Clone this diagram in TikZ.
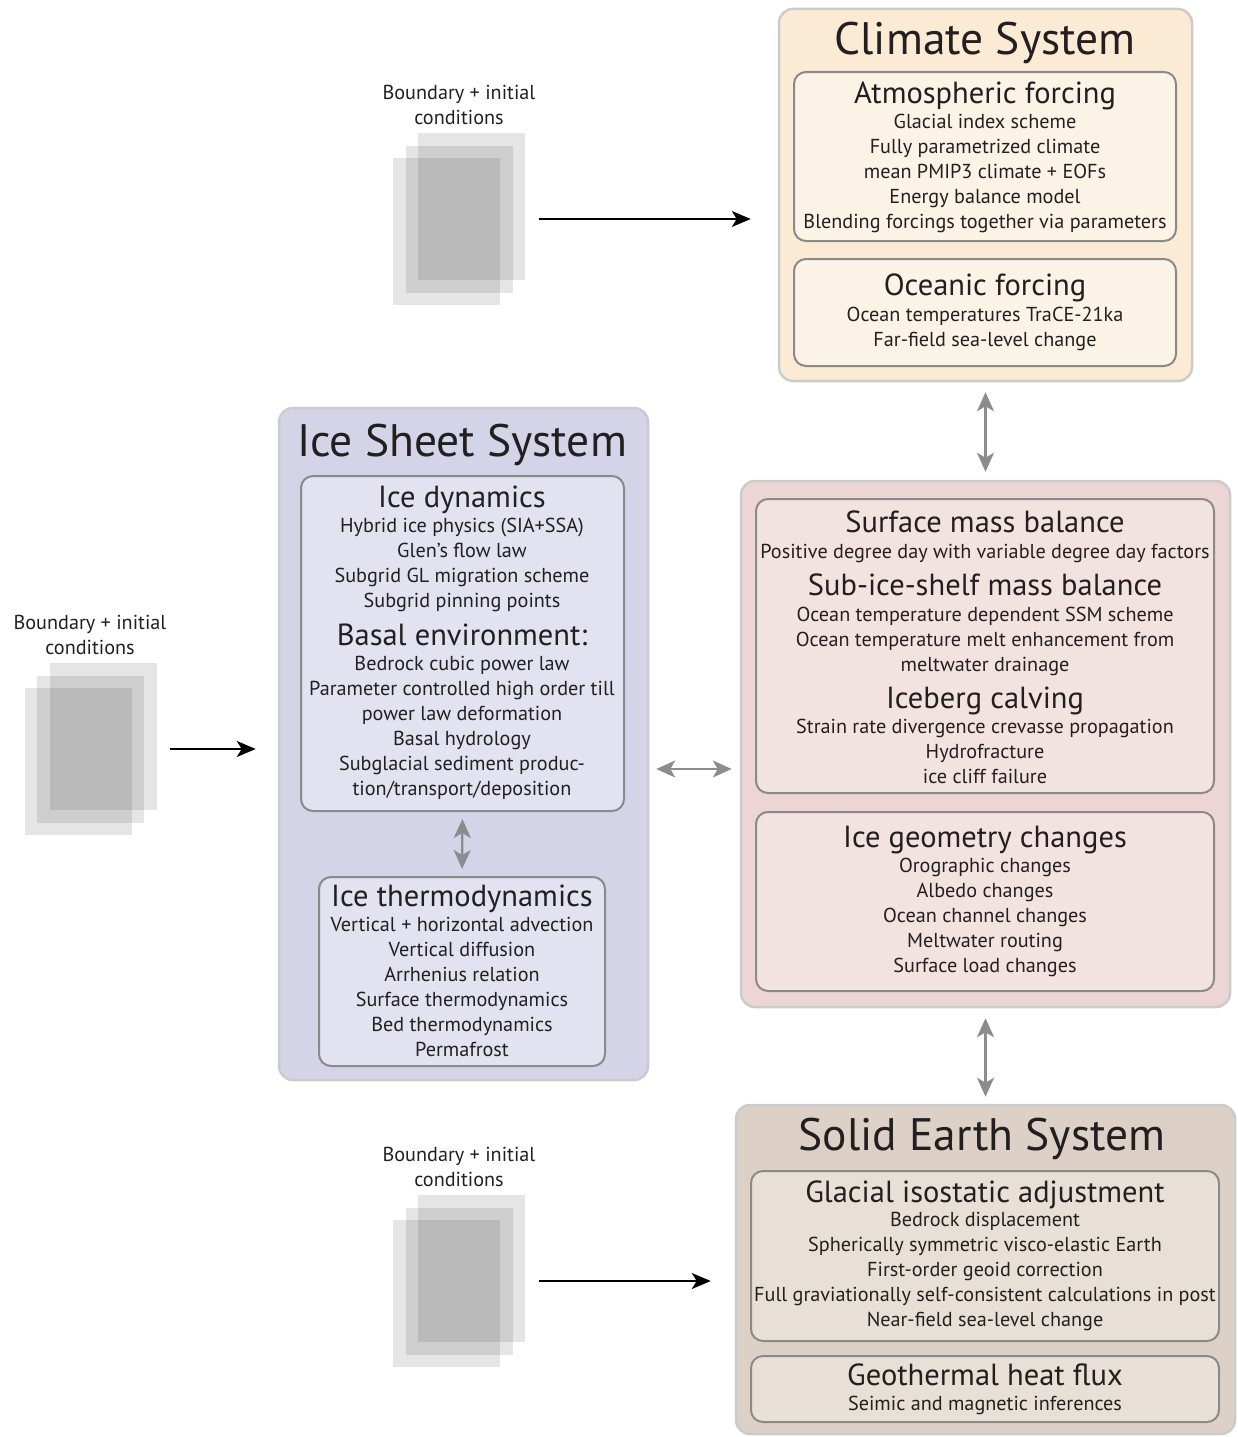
\documentclass[tikz,border=0pt]{standalone}
\usepackage{fontspec}
\setmainfont{PT Sans}
\usetikzlibrary{arrows.meta}

\definecolor{climfill}{HTML}{FBEBD5}
\definecolor{climsub}{HTML}{FCF3E7}
\definecolor{massfill}{HTML}{EDD5D5}
\definecolor{masssub}{HTML}{F2E3E1}
\definecolor{icefill}{HTML}{D3D4E8}
\definecolor{icesub}{HTML}{E2E2F0}
\definecolor{earthfill}{HTML}{DDD1C7}
\definecolor{earthsub}{HTML}{E8DFD7}
\definecolor{outerline}{HTML}{CBCBCB}
\definecolor{innerline}{HTML}{8A8A8A}
\definecolor{linkgray}{HTML}{8C8C8C}
\definecolor{inktext}{HTML}{231F20}

\begin{document}
\begin{tikzpicture}[x=1pt, y=-1pt,
    sysbox/.style={draw=outerline, line width=2.5pt, rounded corners=14pt, inner sep=0pt},
    subbox/.style={draw=innerline, line width=2pt, rounded corners=12pt, inner sep=0pt},
    sheet/.style={fill=black, fill opacity=0.1, minimum width=107pt, minimum height=147pt, inner sep=0pt},
    systitle/.style={font=\fontsize{45.5}{48}\selectfont, anchor=base, text=inktext},
    subhead/.style={font=\fontsize{30.5}{34}\selectfont, anchor=base, text=inktext},
    itemtext/.style={font=\fontsize{20.2}{25}\selectfont, align=center, anchor=north, inner sep=0pt, text=inktext},
    feed/.style={-{Stealth[length=19pt, width=16pt, inset=5pt]}, line width=1.8pt, black},
    link/.style={{Stealth[length=19pt, width=17pt, inset=5pt]}-{Stealth[length=19pt, width=17pt, inset=5pt]}, line width=2.2pt, linkgray}]
    \useasboundingbox (0,0) rectangle (1238,1437);

    % Climate system
    \node (climate) [sysbox, fill=climfill, minimum width=413pt, minimum height=372pt] at (985.5,195) {};
    \node (atm) [subbox, fill=climsub, minimum width=382pt, minimum height=169pt] at (985,156.5) {};
    \node (ocean) [subbox, fill=climsub, minimum width=382pt, minimum height=107pt] at (985,312.5) {};
    \node (climtitle) [systitle] at (985,55) {Climate System};
    \node (atmhead) [subhead] at (985,103) {Atmospheric forcing};
    \node (atmtext) [itemtext] at (985,114) {Glacial index scheme\\ Fully parametrized climate\\ mean PMIP3 climate + EOFs\\ Energy balance model\\ Blending forcings together via parameters};
    \node (oceanhead) [subhead] at (985,295) {Oceanic forcing};
    \node (oceantext) [itemtext] at (985,307) {Ocean temperatures TraCE-21ka\\ Far-field sea-level change};

    % Mass balance and geometry
    \node (mass) [sysbox, fill=massfill, minimum width=489pt, minimum height=526pt] at (985.5,744) {};
    \node (balance) [subbox, fill=masssub, minimum width=458pt, minimum height=294pt] at (985,646) {};
    \node (geometry) [subbox, fill=masssub, minimum width=458pt, minimum height=179pt] at (985,901.5) {};
    \node (smbhead) [subhead] at (985,532) {Surface mass balance};
    \node (smbtext) [itemtext] at (985,544) {Positive degree day with variable degree day factors};
    \node (shelfhead) [subhead] at (985,595) {Sub-ice-shelf mass balance};
    \node (shelftext) [itemtext] at (985,607) {Ocean temperature dependent SSM scheme\\ Ocean temperature melt enhancement from\\ meltwater drainage};
    \node (calvhead) [subhead] at (985,708) {Iceberg calving};
    \node (calvtext) [itemtext] at (985,719) {Strain rate divergence crevasse propagation\\ Hydrofracture\\ ice cliff failure};
    \node (geomhead) [subhead] at (985,847) {Ice geometry changes};
    \node (geomtext) [itemtext] at (985,858) {Orographic changes\\ Albedo changes\\ Ocean channel changes\\ Meltwater routing\\ Surface load changes};

    % Ice sheet system
    \node (icesheet) [sysbox, fill=icefill, minimum width=369pt, minimum height=672pt] at (463.5,744) {};
    \node (dynamics) [subbox, fill=icesub, minimum width=323pt, minimum height=335pt] at (462.5,643.5) {};
    \node (thermo) [subbox, fill=icesub, minimum width=286pt, minimum height=189pt] at (462,971.5) {};
    \node (icetitle) [systitle] at (462,456) {Ice Sheet System};
    \node (dynhead) [subhead] at (462,507) {Ice dynamics};
    \node (dyntext) [itemtext] at (462,518) {Hybrid ice physics (SIA+SSA)\\ Glen’s flow law\\ Subgrid GL migration scheme\\ Subgrid pinning points};
    \node (basalhead) [subhead] at (462,645) {Basal environment:};
    \node (basaltext) [itemtext] at (462,656) {Bedrock cubic power law\\ Parameter controlled high order till\\ power law deformation\\ Basal hydrology\\ Subglacial sediment produc-\\ tion/transport/deposition};
    \node (thermohead) [subhead] at (462,906) {Ice thermodynamics};
    \node (thermotext) [itemtext] at (462,917) {Vertical + horizontal advection\\ Vertical diffusion\\ Arrhenius relation\\ Surface thermodynamics\\ Bed thermodynamics\\ Permafrost};

    % Solid Earth system
    \node (earth) [sysbox, fill=earthfill, minimum width=499pt, minimum height=329pt] at (985.5,1269.5) {};
    \node (gia) [subbox, fill=earthsub, minimum width=468pt, minimum height=170pt] at (985,1256) {};
    \node (heat) [subbox, fill=earthsub, minimum width=468pt, minimum height=66pt] at (985,1389) {};
    \node (earthtitle) [systitle] at (982,1150) {Solid Earth System};
    \node (giahead) [subhead] at (985,1202) {Glacial isostatic adjustment};
    \node (giatext) [itemtext] at (985,1212) {Bedrock displacement\\ Spherically symmetric visco-elastic Earth\\ First-order geoid correction\\ Full graviationally self-consistent calculations in post\\ Near-field sea-level change};
    \node (heathead) [subhead] at (985,1385) {Geothermal heat flux};
    \node (heattext) [itemtext] at (985,1396) {Seimic and magnetic inferences};

    % Boundary + initial conditions
    \node (topback) [sheet] at (471.5,206.5) {};
    \node (topmid) [sheet] at (459,219) {};
    \node (topfront) [sheet] at (446.5,231.5) {};
    \node (toplabel) [itemtext] at (459,85) {Boundary + initial\\ conditions};

    \node (leftback) [sheet] at (103,736.5) {};
    \node (leftmid) [sheet] at (90.5,749) {};
    \node (leftfront) [sheet] at (78,761.5) {};
    \node (leftlabel) [itemtext] at (90,615) {Boundary + initial\\ conditions};

    \node (lowback) [sheet] at (471.5,1268.5) {};
    \node (lowmid) [sheet] at (459,1281) {};
    \node (lowfront) [sheet] at (446.5,1293.5) {};
    \node (lowlabel) [itemtext] at (459,1147) {Boundary + initial\\ conditions};

    % connectors
    \draw [feed, shorten <=26pt, shorten >=27pt] (topmid.east) -- (topmid.east -| climate.west);
    \draw [feed, shorten <=26pt, shorten >=22pt] (leftmid.east) -- (leftmid.east -| icesheet.west);
    \draw [feed, shorten <=26pt, shorten >=24pt] (lowmid.east) -- (lowmid.east -| earth.west);

    \draw [link, shorten <=10pt, shorten >=8pt] (climate.south) -- (mass.north);
    \draw [link, shorten <=7pt, shorten >=8pt] ([yshift=-25pt]icesheet.east) -- ([yshift=-25pt]mass.west);
    \draw [link, shorten <=10pt, shorten >=7pt] (mass.south) -- (earth.north -| mass.south);
    \draw [link, shorten <=7pt, shorten >=7pt] (dynamics.south) -- (thermo.north);
\end{tikzpicture}
\end{document}
